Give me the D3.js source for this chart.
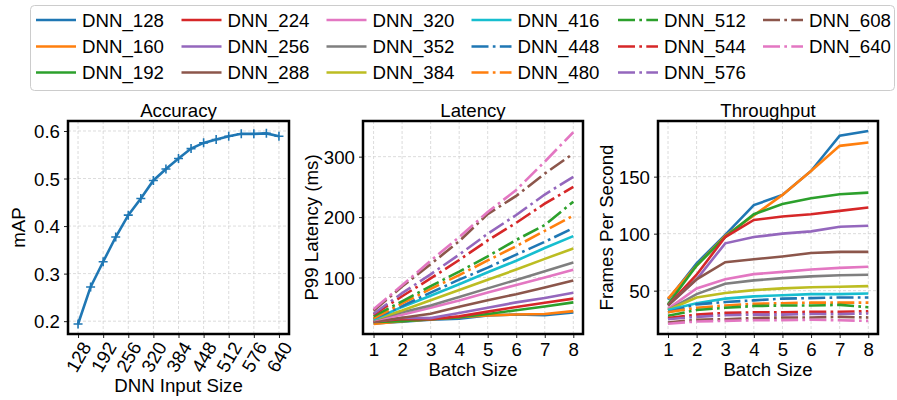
<!DOCTYPE html>
<html>
<head>
<meta charset="utf-8">
<script src="https://cdn.jsdelivr.net/npm/d3@7"></script>
<style>
  body { margin: 0; background: #fff; }
  svg text { font-family: "Liberation Sans", Arial, sans-serif; fill: #000; }
</style>
</head>
<body>
<div id="chart"></div>
<script>
// model names and input sizes
var sizes = [128, 160, 192, 224, 256, 288, 320, 352, 384, 416, 448, 480, 512, 544, 576, 608, 640];
var batches = [1, 2, 3, 4, 5, 6, 7, 8];

// accuracy (mAP) per input size
var mapValues = [0.194, 0.272, 0.325, 0.377, 0.423, 0.458, 0.496, 0.520, 0.542, 0.563, 0.575, 0.582, 0.589, 0.594, 0.594, 0.595, 0.589];

// P99 latency (ms) per batch size, one row per model
var latency = [
  [23.8, 27.0, 30.3, 32.0, 37.3, 38.7, 37.6, 42.1],
  [23.3, 27.8, 30.6, 34.5, 37.3, 38.7, 39.5, 44.4],
  [26.3, 27.8, 30.9, 34.2, 39.7, 45.8, 52.0, 58.8],
  [27.0, 31.3, 30.9, 35.7, 43.5, 51.3, 58.3, 65.0],
  [27.0, 33.3, 32.8, 41.2, 50.0, 58.8, 66.0, 74.8],
  [27.0, 33.3, 40.0, 51.6, 62.5, 72.3, 83.3, 95.2],
  [29.4, 38.5, 50.0, 62.0, 75.2, 87.6, 100.0, 112.7],
  [30.3, 42.6, 53.6, 67.8, 82.0, 96.0, 110.2, 125.0],
  [30.3, 45.5, 62.5, 79.2, 96.2, 113.2, 130.8, 148.1],
  [30.3, 51.3, 69.8, 88.9, 108.7, 127.7, 148.9, 168.4],
  [32.3, 52.6, 75.0, 96.4, 116.3, 137.9, 159.1, 181.8],
  [32.3, 57.1, 81.1, 103.9, 128.2, 151.9, 177.2, 202.5],
  [35.7, 60.6, 85.7, 109.6, 135.1, 162.2, 186.7, 225.4],
  [38.5, 69.0, 98.4, 129.0, 161.3, 190.5, 222.2, 250.0],
  [40.0, 74.1, 105.3, 137.9, 172.4, 203.4, 237.3, 266.7],
  [45.0, 85.0, 122.0, 160.0, 205.0, 235.0, 272.0, 305.0],
  [47.6, 87.0, 127.7, 166.7, 208.3, 244.9, 291.7, 340.4]
];

// throughput (frames per second) per batch size, one row per model
var throughput = [
  [42, 74, 99, 125, 134, 155, 186, 190],
  [43, 72, 98, 116, 134, 155, 177, 180],
  [38, 72, 97, 117, 126, 131, 134.5, 136],
  [37, 64, 97, 112, 115, 117, 120, 123],
  [37, 60, 91.5, 97, 100, 102, 106, 107],
  [37, 60, 75, 77.5, 80, 83, 84, 84],
  [34, 52, 60, 64.5, 66.5, 68.5, 70, 71],
  [33, 47, 56, 59, 61, 62.5, 63.5, 64],
  [33, 44, 48, 50.5, 52, 53, 53.5, 54],
  [33, 39, 43, 45, 46, 47, 47, 47.5],
  [31, 38, 40, 41.5, 43, 43.5, 44, 44],
  [31, 35, 37, 38.5, 39, 39.5, 39.5, 39.5],
  [28, 33, 35, 36.5, 37, 37, 37.5, 35.5],
  [26, 29, 30.5, 31, 31, 31.5, 31.5, 32],
  [25, 27, 28.5, 29, 29, 29.5, 29.5, 30],
  [22, 24.5, 25, 26, 26.5, 26.5, 27, 26.5],
  [21, 23, 23.5, 24, 24, 24.5, 24, 23.5]
];

var accXTicks = [128, 192, 256, 320, 384, 448, 512, 576, 640];
var accYTicks = [0.2, 0.3, 0.4, 0.5, 0.6];
var latYTicks = [100, 200, 300];
var thrYTicks = [50, 100, 150];

var palette = ["#1f77b4", "#ff7f0e", "#2ca02c", "#d62728", "#9467bd",
               "#8c564b", "#e377c2", "#7f7f7f", "#bcbd22", "#17becf"];
var fs = 18.67;
var lw = 2.6;
var dashdot = "17,4.3,2.7,4.3";

var series = sizes.map((s, i) => ({
  name: "DNN_" + s,
  color: palette[i % 10],
  dash: i >= 10 ? dashdot : null,
  lat: latency[i],
  fps: throughput[i]
}));

var svg = d3.select("#chart").append("svg")
    .attr("width", 897)
    .attr("height", 400);

// ---- legend ----
var leg = svg.append("g");
leg.append("rect")
    .attr("x", 30.5).attr("y", 5.5)
    .attr("width", 864).attr("height", 85)
    .attr("rx", 4)
    .style("fill", "#fff").style("stroke", "#cccccc").style("stroke-width", 1);

var colX = [36, 181.5, 326.5, 471.5, 618, 763];
var rowY = [20, 46.5, 72.5];
series.forEach((s, i) => {
  var cx = colX[Math.floor(i / 3)], cy = rowY[i % 3];
  leg.append("line")
      .attr("x1", cx).attr("x2", cx + 40)
      .attr("y1", cy).attr("y2", cy)
      .style("stroke", s.color).style("stroke-width", lw)
      .style("stroke-dasharray", s.dash);
  leg.append("text")
      .attr("x", cx + 46).attr("y", cy + 6.7)
      .style("font-size", fs + "px")
      .text(s.name);
});

// ---- helpers ----
function grid(g, x, y, xt, yt, x0, x1, y0, y1) {
  g.selectAll(null).data(xt).enter().append("line")
      .attr("x1", d => x(d)).attr("x2", d => x(d))
      .attr("y1", y0).attr("y2", y1)
      .style("stroke", "#d3d3d3").style("stroke-width", 0.8)
      .style("stroke-dasharray", "3,2");
  g.selectAll(null).data(yt).enter().append("line")
      .attr("x1", x0).attr("x2", x1)
      .attr("y1", d => y(d)).attr("y2", d => y(d))
      .style("stroke", "#d3d3d3").style("stroke-width", 0.8)
      .style("stroke-dasharray", "3,2");
}

function axes(g, x, y, xt, yt, yfmt, x0, x1, y0, y1, rotate) {
  var ya = g.append("g")
      .attr("transform", "translate(" + x0 + ",0)")
      .call(d3.axisLeft(y).tickValues(yt).tickFormat(yfmt).tickSize(4).tickPadding(4));
  ya.select(".domain").remove();
  ya.selectAll("text").style("font-size", fs + "px").attr("dy", "0.36em");
  ya.selectAll("line").style("stroke", "#222");

  var xa = g.append("g")
      .attr("transform", "translate(0," + y1 + ")")
      .call(d3.axisBottom(x).tickValues(xt).tickSize(4).tickPadding(5));
  xa.select(".domain").remove();
  xa.selectAll("line").style("stroke", "#222");
  xa.selectAll("text").style("font-size", fs + "px");
  if (rotate) {
    xa.selectAll("text")
        .attr("y", 23).attr("dy", "0.35em")
        .attr("transform", "rotate(-60,0,23)")
        .attr("text-anchor", "middle");
  }

  g.append("rect")
      .attr("x", x0).attr("y", y0)
      .attr("width", x1 - x0).attr("height", y1 - y0)
      .style("fill", "none").style("stroke", "#000").style("stroke-width", 2.5);
}

function labels(g, title, xl, yl, x0, x1, xly, ylx) {
  g.append("text")
      .attr("x", (x0 + x1) / 2).attr("y", 116.7)
      .attr("text-anchor", "middle")
      .style("font-size", fs + "px")
      .text(title);
  g.append("text")
      .attr("x", (x0 + x1) / 2).attr("y", xly)
      .attr("text-anchor", "middle")
      .style("font-size", fs + "px")
      .text(xl);
  g.append("text")
      .attr("transform", "translate(" + ylx + "," + ((yTop + yBot) / 2) + ") rotate(-90)")
      .attr("text-anchor", "middle")
      .style("font-size", fs + "px")
      .text(yl);
}

var yTop = 121, yBot = 334;

// ---- accuracy ----
var aL = 68, aR = 289;
var xa = d3.scaleLinear().domain([102.4, 665.6]).range([aL, aR]);
var ya = d3.scaleLinear().domain([0.173, 0.621]).range([yBot, yTop]);
var ga = svg.append("g");
grid(ga, xa, ya, accXTicks, accYTicks, aL, aR, yTop, yBot);
ga.append("path")
    .datum(mapValues)
    .attr("d", d3.line().x((d, i) => xa(sizes[i])).y(d => ya(d)))
    .style("fill", "none").style("stroke", palette[0]).style("stroke-width", lw);
ga.selectAll(null).data(mapValues).enter().append("path")
    .attr("transform", (d, i) => "translate(" + xa(sizes[i]) + "," + ya(d) + ")")
    .attr("d", "M-4.5,0H4.5M0,-4.5V4.5")
    .style("stroke", palette[0]).style("stroke-width", 1.6);
axes(ga, xa, ya, accXTicks, accYTicks, d3.format(".1f"), aL, aR, yTop, yBot, true);
labels(ga, "Accuracy", "DNN Input Size", "mAP", aL, aR, 392, 25);

// ---- latency ----
var lL = 363, lR = 583;
var xl = d3.scaleLinear().domain([0.63, 8.34]).range([lL, lR]);
var yl = d3.scaleLinear().domain([6.5, 359]).range([yBot, yTop]);
var gl = svg.append("g");
grid(gl, xl, yl, batches, latYTicks, lL, lR, yTop, yBot);
var lineL = d3.line().x((d, i) => xl(batches[i])).y(d => yl(d));
gl.selectAll(null).data(series).enter().append("path")
    .attr("d", d => lineL(d.lat))
    .style("fill", "none")
    .style("stroke", d => d.color).style("stroke-width", lw)
    .style("stroke-dasharray", d => d.dash);
axes(gl, xl, yl, batches, latYTicks, d3.format("d"), lL, lR, yTop, yBot, false);
labels(gl, "Latency", "Batch Size", "P99 Latency (ms)", lL, lR, 375.5, 317.5);

// ---- throughput ----
var tL = 658, tR = 878;
var xt = d3.scaleLinear().domain([0.65, 8.34]).range([tL, tR]);
var yt = d3.scaleLinear().domain([12, 198.8]).range([yBot, yTop]);
var gt = svg.append("g");
grid(gt, xt, yt, batches, thrYTicks, tL, tR, yTop, yBot);
var lineT = d3.line().x((d, i) => xt(batches[i])).y(d => yt(d));
gt.selectAll(null).data(series).enter().append("path")
    .attr("d", d => lineT(d.fps))
    .style("fill", "none")
    .style("stroke", d => d.color).style("stroke-width", lw)
    .style("stroke-dasharray", d => d.dash);
axes(gt, xt, yt, batches, thrYTicks, d3.format("d"), tL, tR, yTop, yBot, false);
labels(gt, "Throughput", "Batch Size", "Frames Per Second", tL, tR, 375.5, 612.5);
</script>
</body>
</html>
